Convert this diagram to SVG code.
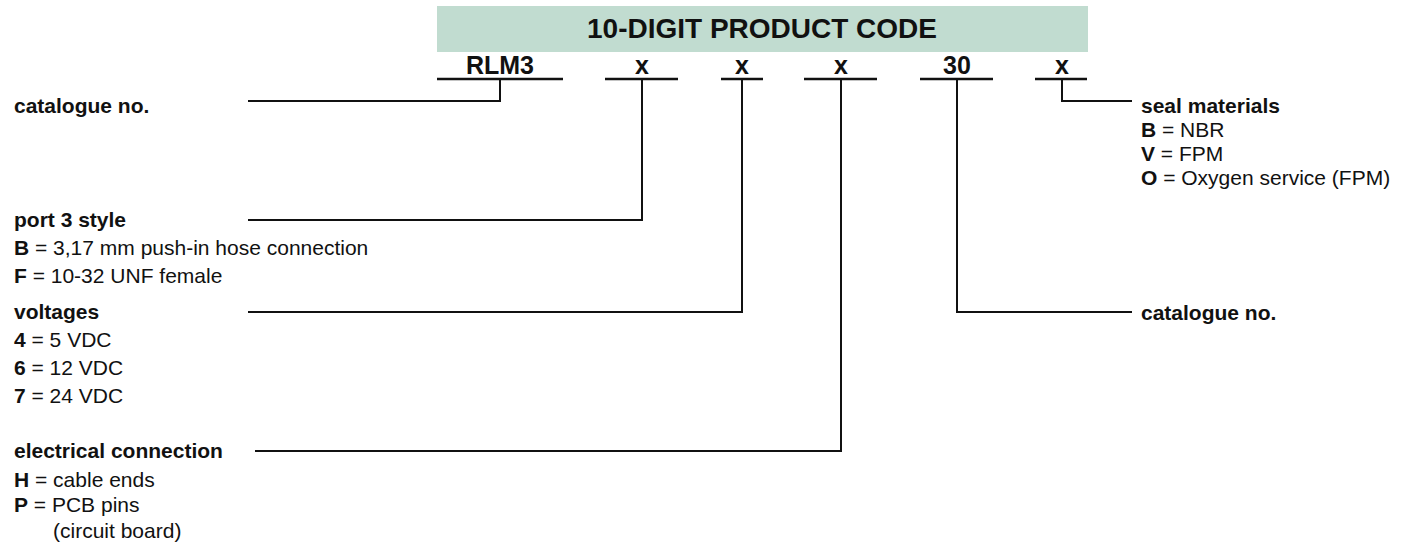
<svg xmlns="http://www.w3.org/2000/svg" width="1410" height="550" viewBox="0 0 1410 550">
<style>
text{font-family:"Liberation Sans",Arial,Helvetica,sans-serif;fill:#111}
.hd{font-size:28px;font-weight:bold}
.code{font-size:25px;font-weight:bold}
.t{font-size:21px}
.b{font-weight:bold}
.ul{stroke:#111;stroke-width:2.5;fill:none}
.cn{stroke:#111;stroke-width:2;fill:none}
</style>
<rect width="1410" height="550" fill="#fff"/>
<g id="header">
<rect x="437" y="6" width="651" height="46" fill="#c1dcd0"/>
<text class="hd" x="762" y="38" text-anchor="middle">10-DIGIT PRODUCT CODE</text>
</g>
<g id="seg-rlm3"><text class="code" x="500" y="74" text-anchor="middle">RLM3</text><line class="ul" x1="437" y1="79" x2="563" y2="79"/></g>
<g id="seg-x1"><text class="code" x="642" y="74" text-anchor="middle">x</text><line class="ul" x1="605" y1="79" x2="678" y2="79"/></g>
<g id="seg-x2"><text class="code" x="742" y="74" text-anchor="middle">x</text><line class="ul" x1="721" y1="79" x2="763" y2="79"/></g>
<g id="seg-x3"><text class="code" x="841" y="74" text-anchor="middle">x</text><line class="ul" x1="804" y1="79" x2="877" y2="79"/></g>
<g id="seg-30"><text class="code" x="957" y="74" text-anchor="middle">30</text><line class="ul" x1="920" y1="79" x2="993" y2="79"/></g>
<g id="seg-x4"><text class="code" x="1062" y="74" text-anchor="middle">x</text><line class="ul" x1="1035" y1="79" x2="1087" y2="79"/></g>
<g id="connectors">
<path class="cn" d="M248,101 H500 V79"/>
<path class="cn" d="M248,220 H642 V79"/>
<path class="cn" d="M248,312 H742 V79"/>
<path class="cn" d="M255,451 H841 V79"/>
<path class="cn" d="M957,79 V312 H1132"/>
<path class="cn" d="M1062,79 V101 H1132"/>
</g>
<g id="label-catalogue-left"><text class="t b" x="14" y="113">catalogue no.</text></g>
<g id="label-port3">
<text class="t b" x="14" y="227">port 3 style</text>
<text class="t" x="14" y="255"><tspan class="b">B</tspan> = 3,17 mm push-in hose connection</text>
<text class="t" x="14" y="283"><tspan class="b">F</tspan> = 10-32 UNF female</text>
</g>
<g id="label-voltages">
<text class="t b" x="14" y="319">voltages</text>
<text class="t" x="14" y="347"><tspan class="b">4</tspan> = 5 VDC</text>
<text class="t" x="14" y="375"><tspan class="b">6</tspan> = 12 VDC</text>
<text class="t" x="14" y="403"><tspan class="b">7</tspan> = 24 VDC</text>
</g>
<g id="label-electrical">
<text class="t b" x="14" y="458">electrical connection</text>
<text class="t" x="14" y="487"><tspan class="b">H</tspan> = cable ends</text>
<text class="t" x="14" y="512"><tspan class="b">P</tspan> = PCB pins</text>
<text class="t" x="53" y="538">(circuit board)</text>
</g>
<g id="label-seal">
<text class="t b" x="1141" y="113">seal materials</text>
<text class="t" x="1141" y="137"><tspan class="b">B</tspan> = NBR</text>
<text class="t" x="1141" y="161"><tspan class="b">V</tspan> = FPM</text>
<text class="t" x="1141" y="185"><tspan class="b">O</tspan> = Oxygen service (FPM)</text>
</g>
<g id="label-catalogue-right"><text class="t b" x="1141" y="320">catalogue no.</text></g>
</svg>
